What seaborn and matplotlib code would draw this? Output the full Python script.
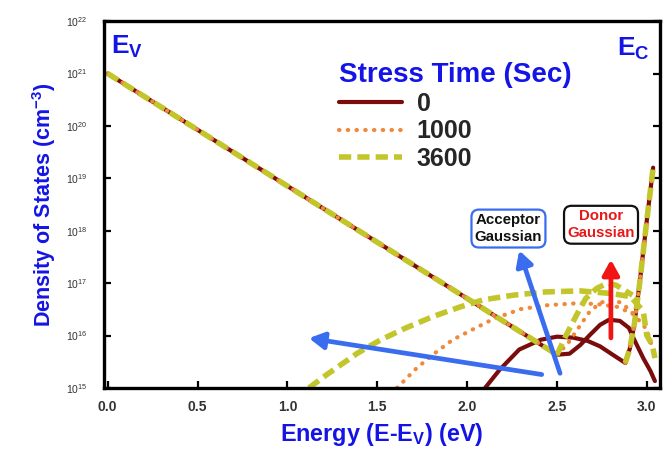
import matplotlib
matplotlib.use('Agg')
import matplotlib.pyplot as plt
import seaborn as sns
import pandas as pd
from matplotlib.lines import Line2D
from matplotlib.ticker import FixedLocator, NullLocator, FormatStrFormatter

# ---- data (energy in eV, DOS in cm^-3) ----
stress_times = ['0', '1000', '3600']

tail_e = [0.0, 2.5]
tail_dos = [1.0e21, 4.3e15]

spike_e = [2.88, 2.905, 2.93, 2.96, 3.0, 3.035]
spike_dos = [3.0e15, 5.6e15, 1.6e16, 1.0e17, 1.6e18, 1.6e19]

acc0_e = [2.10, 2.18, 2.29, 2.41, 2.50, 2.59, 2.67, 2.74, 2.81, 2.88]
acc0_dos = [1.0e15, 2.2e15, 5.4e15, 8.3e15, 9.5e15, 9.1e15, 7.9e15, 6.2e15, 4.3e15, 3.0e15]
don0_e = [2.50, 2.57, 2.63, 2.68, 2.74, 2.79, 2.85, 2.90, 2.93, 2.98, 3.02, 3.045]
don0_dos = [4.3e15, 4.5e15, 6.6e15, 1.0e16, 1.6e16, 2.0e16, 1.9e16, 1.4e16, 8.3e15, 3.7e15, 2.1e15, 1.35e15]

acc1_e = [1.61, 1.72, 1.82, 1.92, 2.03, 2.15, 2.30, 2.45, 2.60, 2.72, 2.84, 2.93, 3.00, 3.045]
acc1_dos = [1.0e15, 2.4e15, 4.6e15, 8.3e15, 1.3e16, 2.1e16, 3.2e16, 3.8e16, 4.1e16, 4.0e16, 3.5e16, 2.5e16, 1.3e16, 4.0e15]
don1_e = [2.50, 2.56, 2.62, 2.68, 2.74, 2.80, 2.86, 2.92]
don1_dos = [4.3e15, 7.0e15, 1.4e16, 2.8e16, 4.2e16, 4.8e16, 4.2e16, 2.7e16]

acc2_e = [1.12, 1.22, 1.39, 1.52, 1.66, 1.81, 1.96, 2.09, 2.26, 2.44, 2.63, 2.81, 2.91, 2.98, 3.00, 3.03, 3.045]
acc2_dos = [1.0e15, 1.8e15, 4.6e15, 8.3e15, 1.4e16, 2.3e16, 3.5e16, 4.8e16, 5.9e16, 6.8e16, 7.1e16,
            6.3e16, 5.5e16, 2.9e16, 1.0e16, 6.6e15, 3.7e15]
don2_e = [2.50, 2.55, 2.61, 2.66, 2.72, 2.78, 2.83, 2.89, 2.92]
don2_dos = [4.3e15, 1.0e16, 2.5e16, 5.1e16, 7.9e16, 1.0e17, 9.1e16, 6.8e16, 5.9e16]

y_ticks = [1e15, 1e16, 1e17, 1e18, 1e19, 1e20, 1e21, 1e22]
x_ticks = [0.0, 0.5, 1.0, 1.5, 2.0, 2.5, 3.0]

curves = {
    '0': [(tail_e, tail_dos), (acc0_e, acc0_dos), (don0_e, don0_dos), (spike_e, spike_dos)],
    '1000': [(tail_e, tail_dos), (acc1_e, acc1_dos), (don1_e, don1_dos), (spike_e, spike_dos)],
    '3600': [(tail_e, tail_dos), (acc2_e, acc2_dos), (don2_e, don2_dos), (spike_e, spike_dos)],
}

styles = {
    '0': dict(color='#7a0c0c', linewidth=3.0, linestyle='-'),
    '1000': dict(color='#f0893a', linewidth=3.0, linestyle=(0, (0.1, 2.0)), dash_capstyle='round'),
    '3600': dict(color='#c3c62b', linewidth=4.0, linestyle=(0, (2.2, 1.1))),
}

BLUE = '#1414e6'

sns.set_style('white')
plt.rcParams['font.family'] = ['Liberation Sans', 'DejaVu Sans']
plt.rcParams['mathtext.fontset'] = 'custom'
plt.rcParams['mathtext.rm'] = 'Liberation Sans'
plt.rcParams['mathtext.bf'] = 'Liberation Sans:bold'

fig = plt.figure(figsize=(6.67, 4.5), dpi=100)
ax = fig.add_axes([0.156, 0.138, 0.834, 0.815])

for st in stress_times:
    for e, d in curves[st]:
        df = pd.DataFrame({'energy': e, 'dos': d})
        sns.lineplot(data=df, x='energy', y='dos', ax=ax, sort=False, estimator=None,
                     legend=False, **styles[st])

ax.set_yscale('log')
ax.set_ylim(1e15, 1e22)
ax.set_xlim(-0.02, 3.075)
ax.xaxis.set_major_locator(FixedLocator(x_ticks))
ax.xaxis.set_major_formatter(FormatStrFormatter('%.1f'))
ax.yaxis.set_major_locator(FixedLocator(y_ticks))
ax.yaxis.set_minor_locator(NullLocator())

for s in ax.spines.values():
    s.set_linewidth(2.4)
    s.set_color('black')
ax.tick_params(axis='both', direction='in', length=5, width=1.6, color='black',
               right=True, top=False, left=True, bottom=True)
ax.tick_params(axis='x', labelsize=10, labelcolor='#333333', pad=9)
ax.tick_params(axis='y', labelsize=7.5, labelcolor='#333333', pad=12)
for lbl in ax.get_xticklabels():
    lbl.set_fontweight('bold')

ax.set_xlabel(r'Energy (E-E$_\mathbf{V}$) (eV)', fontsize=16.8, fontweight='bold', color=BLUE, labelpad=5)
ax.set_ylabel(r'Density of States (cm$^\mathbf{-3}$)', fontsize=15.5, fontweight='bold', color=BLUE, labelpad=6)

ax.text(0.02, 3.2e21, r'E$_\mathbf{V}$', fontsize=19, fontweight='bold', color=BLUE, va='center', ha='left')
ax.text(3.015, 3.0e21, r'E$_\mathbf{C}$', fontsize=19, fontweight='bold', color=BLUE, va='center', ha='right')

# annotations
arrow_blue = dict(arrowstyle='-|>,head_length=0.9,head_width=0.5', color='#3a6cf0', lw=3.4, shrinkA=0, shrinkB=0)
ax.annotate('', xy=(1.12, 8.9e15), xytext=(2.415, 1.8e15), arrowprops=arrow_blue)
ax.annotate('', xy=(2.29, 4.2e17), xytext=(2.517, 1.9e15), arrowprops=arrow_blue)
ax.annotate('', xy=(2.80, 2.8e17), xytext=(2.80, 9.0e15),
            arrowprops=dict(arrowstyle='-|>,head_length=0.9,head_width=0.5', color='#f01414', lw=3.4,
                            shrinkA=0, shrinkB=0))

ax.text(2.23, 1.1e18, 'Acceptor\nGaussian', fontsize=10.8, fontweight='bold', color='#111111',
        ha='center', va='center', linespacing=1.3,
        bbox=dict(boxstyle='round,pad=0.22,rounding_size=0.5', fc='white', ec='#3a6cf0', lw=1.6))
ax.text(2.745, 1.3e18, 'Donor\nGaussian', fontsize=10.8, fontweight='bold', color='#e81818',
        ha='center', va='center', linespacing=1.3,
        bbox=dict(boxstyle='round,pad=0.22,rounding_size=0.5', fc='white', ec='#111111', lw=1.6))

handles = [Line2D([], [], **styles[st]) for st in stress_times]
leg = ax.legend(handles, stress_times, title='Stress Time (Sec)', loc='upper left',
                bbox_to_anchor=(0.405, 0.915), frameon=False, handlelength=2.5,
                handletextpad=0.6, labelspacing=0.14, borderaxespad=0,
                prop={'weight': 'bold', 'size': 18}, alignment='left')
leg.get_title().set_fontsize(20)
leg.get_title().set_fontweight('bold')
leg.get_title().set_color(BLUE)

fig.savefig('out.png', dpi=100)
plt.close(fig)
